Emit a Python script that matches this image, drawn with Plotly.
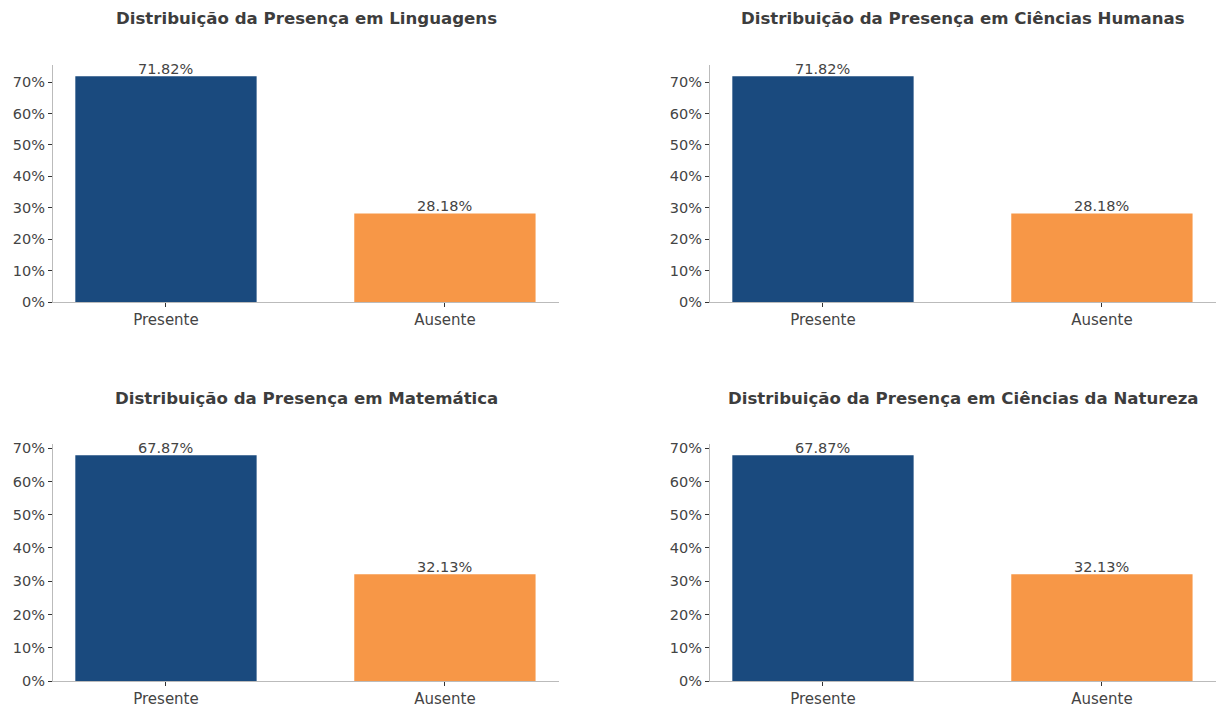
import plotly.graph_objects as go

categories = ["Presente", "Ausente"]
titles = [
    "Distribuição da Presença em Linguagens",
    "Distribuição da Presença em Ciências Humanas",
    "Distribuição da Presença em Matemática",
    "Distribuição da Presença em Ciências da Natureza",
]
linguagens = [71.82, 28.18]
humanas = [71.82, 28.18]
matematica = [67.87, 32.13]
natureza = [67.87, 32.13]
series = [linguagens, humanas, matematica, natureza]
colors = ["#1a4a7e", "#f79747"]
y_ticks = [0, 10, 20, 30, 40, 50, 60, 70]
y_tick_labels = [f"{t}%" for t in y_ticks]

W, H = 1225, 716
xdoms = [(53 / W, 559 / W), (710 / W, 1216 / W)]
ydoms = [(1 - 302 / H, 1 - 65 / H), (1 - 681 / H, 1 - 444 / H)]
title_y = [1 - 18 / H, 1 - 398 / H]

fig = go.Figure()
FONT = "DejaVu Sans"
TXT = "#444444"

for i, vals in enumerate(series):
    r, c = divmod(i, 2)
    n = i + 1
    xa = "x" if n == 1 else f"x{n}"
    ya = "y" if n == 1 else f"y{n}"
    fig.add_trace(go.Bar(
        x=categories, y=vals, xaxis=xa, yaxis=ya,
        marker=dict(color=colors, line=dict(width=0)),
        width=0.65,
        showlegend=False,
    ))
    for cat, v in zip(categories, vals):
        fig.add_annotation(
            x=cat, y=v, xref=xa, yref=ya,
            text=f"{v:.2f}%", showarrow=False,
            xanchor="center", yanchor="bottom", yshift=-3,
            font=dict(family=FONT, size=14.5, color=TXT),
        )
    common_x = dict(
        domain=list(xdoms[c]), anchor=ya, range=[-0.405, 1.409],
        showline=True, linecolor="#bbbbbb", linewidth=1,
        ticks="outside", ticklen=4, tickcolor="#333333",
        showgrid=False, zeroline=False, automargin=False,
        tickfont=dict(family=FONT, size=15, color=TXT),
        fixedrange=True,
    )
    common_y = dict(
        domain=list(ydoms[r]), anchor=xa, range=[0, max(vals) * 1.05],
        showline=True, linecolor="#bbbbbb", linewidth=1,
        ticks="outside", ticklen=4, tickcolor="#333333",
        tickmode="array", tickvals=y_ticks, ticktext=y_tick_labels,
        showgrid=False, zeroline=False, automargin=False,
        tickfont=dict(family=FONT, size=14.5, color=TXT),
        fixedrange=True,
    )
    fig.update_layout(**{
        ("xaxis" if n == 1 else f"xaxis{n}"): common_x,
        ("yaxis" if n == 1 else f"yaxis{n}"): common_y,
    })
    fig.add_annotation(
        x=(xdoms[c][0] + xdoms[c][1]) / 2, y=title_y[r],
        xref="paper", yref="paper", xanchor="center", yanchor="middle",
        text=f"<b>{titles[i]}</b>", showarrow=False,
        font=dict(family=FONT, size=16.6, color="#3d3d3d"),
    )

fig.update_layout(
    width=W, height=H,
    margin=dict(l=0, r=0, t=0, b=0),
    paper_bgcolor="white", plot_bgcolor="white",
)

fig.write_html(
    "out.html",
    config={"displayModeBar": False},
    post_script="document.body.style.margin='0';document.body.style.overflow='hidden';",
)
